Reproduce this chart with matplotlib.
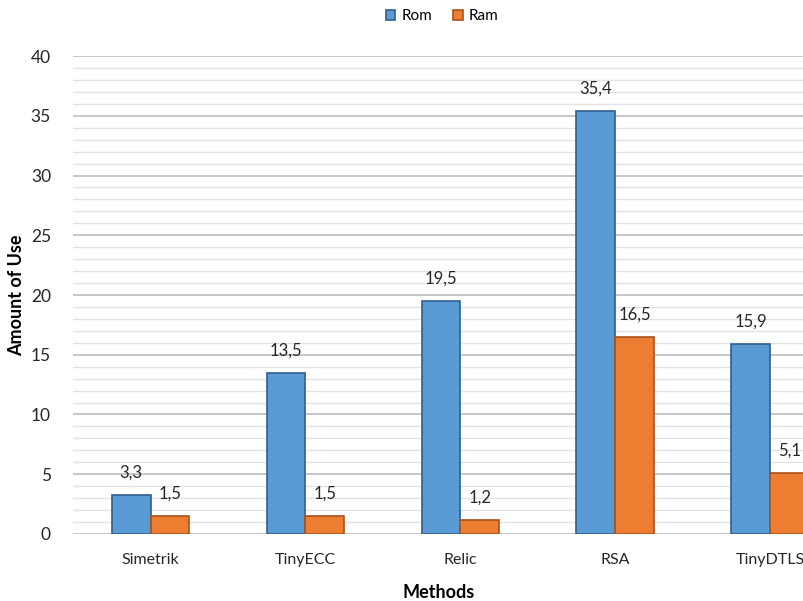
import matplotlib
matplotlib.use("Agg")
import matplotlib.pyplot as plt
import numpy as np
from matplotlib.ticker import MultipleLocator

plt.rcParams['font.family'] = ['Lato', 'DejaVu Sans']

methods = ["Simetrik", "TinyECC", "Relic", "RSA", "TinyDTLS"]
rom = [3.3, 13.5, 19.5, 35.4, 15.9]
ram = [1.5, 1.5, 1.2, 16.5, 5.1]
series_names = ["Rom", "Ram"]

blue, blue_edge = "#5B9BD5", "#2F5F8F"
orange, orange_edge = "#ED7D31", "#A8521A"
text_color = "#262626"

fig = plt.figure(figsize=(8.04, 6.01), dpi=100)
ax = fig.add_axes([0.091, 0.1115, 0.909, 0.7953])

x = np.arange(len(methods))
w = 0.25
b1 = ax.bar(x - w / 2, rom, w, color=blue, edgecolor=blue_edge, linewidth=1.2,
            label=series_names[0], zorder=3)
b2 = ax.bar(x + w / 2, ram, w, color=orange, edgecolor=orange_edge, linewidth=1.2,
            label=series_names[1], zorder=3)

for bars, vals in ((b1, rom), (b2, ram)):
    for rect, v in zip(bars, vals):
        ax.text(rect.get_x() + rect.get_width() / 2, v + 1.2,
                f"{v:.1f}".replace(".", ","), ha="center", va="bottom",
                fontsize=12, color=text_color, zorder=4)

ax.set_ylim(0, 40)
ax.set_xlim(-0.50, 4.22)
ax.yaxis.set_major_locator(MultipleLocator(5))
ax.yaxis.set_minor_locator(MultipleLocator(1))
ax.grid(axis="y", which="major", color="#BDBDBD", linewidth=1.2, zorder=0)
ax.grid(axis="y", which="minor", color="#E3E3E3", linewidth=1.0, zorder=0)
ax.set_axisbelow(True)
for s in ax.spines.values():
    s.set_visible(False)
ax.tick_params(axis="both", which="both", length=0, labelsize=12.5, colors=text_color)
ax.tick_params(axis="y", pad=16)
ax.tick_params(axis="x", pad=14)
ax.set_xticks(x)
ax.set_xticklabels(methods, fontsize=11.5)

ax.set_ylabel("Amount of Use", fontsize=13, fontweight="bold", color="black", labelpad=4)
ax.set_xlabel("Methods", fontsize=13, fontweight="bold", color="black", labelpad=12)

fig.legend(handles=[b1, b2], loc="center", bbox_to_anchor=(0.55, 0.973), ncol=2,
           frameon=False, fontsize=11, handlelength=0.6, handleheight=0.6,
           handletextpad=0.4, columnspacing=1.4)

fig.savefig("out.png", dpi=100)
